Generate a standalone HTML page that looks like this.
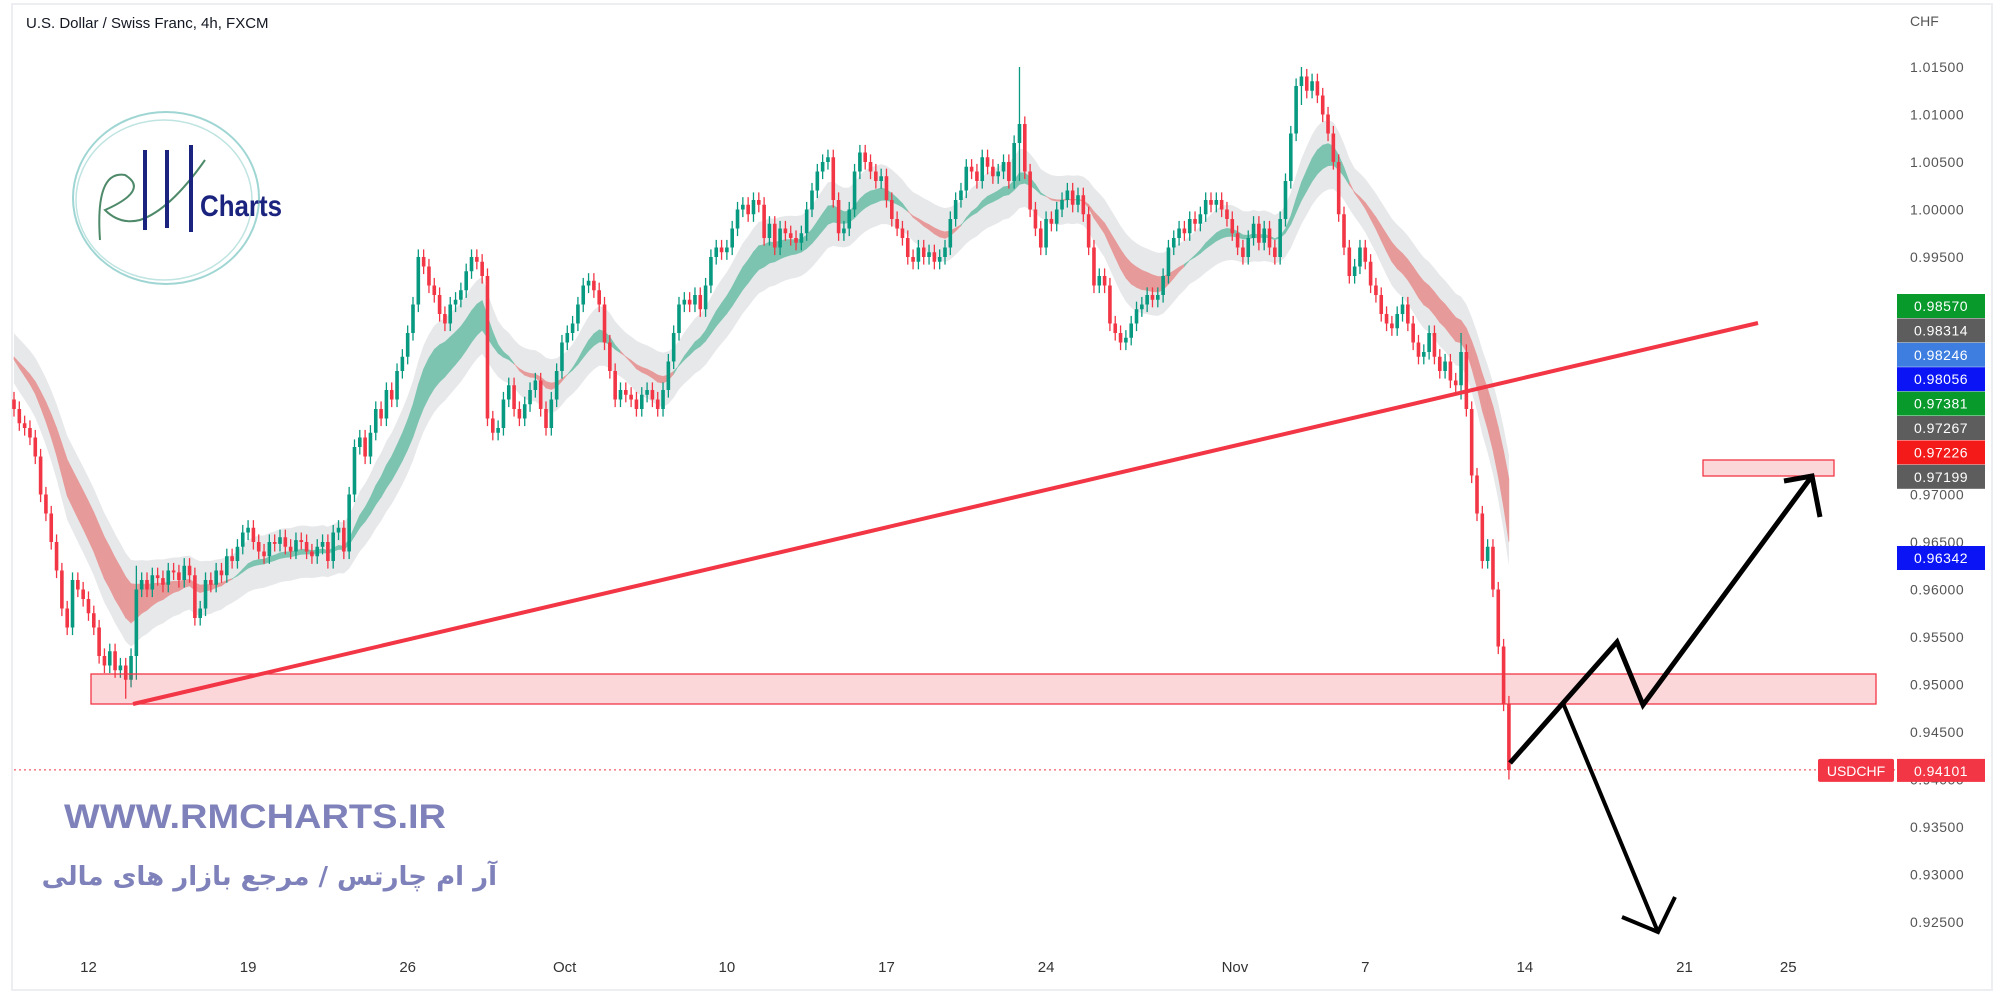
<!DOCTYPE html>
<html><head><meta charset="utf-8">
<style>
html,body{margin:0;padding:0;background:#fff;}
body{width:2000px;height:1000px;overflow:hidden;position:relative;font-family:"Liberation Sans",sans-serif;}
svg{position:absolute;left:0;top:0;}
#fa{position:absolute;left:20px;width:477px;top:858px;text-align:right;direction:rtl;font-size:26px;font-weight:bold;color:#7f82ba;font-family:"DejaVu Sans","Noto Sans CJK SC",sans-serif;white-space:nowrap;line-height:38px;}
</style></head>
<body>
<svg id="chart" width="2000" height="1000" viewBox="0 0 2000 1000">
  <rect x="12" y="4" width="1980" height="986" fill="#fff" stroke="#eceef2" stroke-width="2"/>
  <g id="bands"></g>
  <g id="candles"></g>
  <g id="axis"></g>
  <g id="xaxis"></g>
  <text x="26" y="28" font-size="15" fill="#131722">U.S. Dollar / Swiss Franc, 4h, FXCM</text>
  <text x="1910" y="26" font-size="14" fill="#555">CHF</text>
  <g>
    <ellipse cx="166" cy="198" rx="93" ry="86" fill="none" stroke="#9fd6d3" stroke-width="2"/>
    <ellipse cx="164" cy="200" rx="88" ry="80" fill="none" stroke="#bfe4e1" stroke-width="1.5"/>
    <path d="M100 240 Q95 170 125 175 Q150 190 105 210 Q120 225 140 220 Q170 210 205 160" fill="none" stroke="#4e8a6a" stroke-width="2"/>
    <line x1="145" y1="150" x2="145" y2="230" stroke="#1a237e" stroke-width="4"/>
    <line x1="167" y1="150" x2="167" y2="228" stroke="#1a237e" stroke-width="4"/>
    <line x1="191" y1="145" x2="191" y2="232" stroke="#1a237e" stroke-width="4"/>
    <text x="200" y="216" font-size="30" font-weight="bold" fill="#1a237e" textLength="82" lengthAdjust="spacingAndGlyphs">Charts</text>
  </g>
  <text x="64" y="828" font-size="34" font-weight="bold" fill="#7f82ba" textLength="382" lengthAdjust="spacingAndGlyphs">WWW.RMCHARTS.IR</text>
  <g id="drawings"></g>
</svg>
<div id="fa">آر ام چارتس / مرجع بازار های مالی</div>
<script>
const closes = [
0.9790,0.9775,0.9770,0.9760,0.9740,0.9700,0.9680,0.9650,0.9620,0.9580,
0.9560,0.9610,0.9600,0.9590,0.9575,0.9560,0.9530,0.9520,0.9535,0.9515,
0.9520,0.9505,0.9530,0.9600,
0.9610,0.9600,0.9615,0.9612,0.9605,0.9620,0.9618,0.9610,0.9625,0.9615,
0.9570,0.9580,0.9610,0.9605,0.9620,0.9615,0.9635,0.9630,0.9645,0.9660,
0.9665,0.9650,0.9640,0.9635,0.9650,0.9648,0.9655,0.9645,0.9640,0.9652,
0.9650,0.9640,0.9635,0.9645,0.9650,0.9630,0.9660,0.9665,0.9640,
0.9700,0.9750,0.9760,0.9740,0.9765,0.9790,0.9780,0.9810,0.9800,0.9830,0.9845,0.9870,0.9900,
0.9950,0.9940,0.9920,0.9910,0.9890,0.9880,0.9900,0.9905,0.9915,0.9935,0.9950,0.9945,0.9930,
0.9780,0.9765,0.9770,0.9800,0.9815,0.9790,0.9780,0.9795,0.9810,0.9820,0.9790,0.9770,0.9800,0.9830,
0.9860,0.9870,0.9880,0.9900,0.9920,0.9925,0.9915,0.9900,0.9860,0.9830,
0.9800,0.9810,0.9805,0.9800,0.9790,0.9805,0.9810,0.9800,0.9790,0.9810,0.9840,0.9870,
0.9900,0.9905,0.9900,0.9910,0.9895,0.9920,0.9950,0.9960,0.9955,0.9960,0.9980,1.0000,
1.0005,0.9995,1.0010,1.0005,0.9970,0.9985,0.9960,0.9980,0.9975,0.9970,0.9965,0.9975,1.0000,1.0020,1.0040,1.0050,
1.0055,1.0010,0.9975,0.9980,1.0000,1.0040,1.0060,1.0050,1.0040,1.0030,1.0035,1.0010,0.9990,
0.9980,0.9970,0.9950,0.9945,0.9960,0.9950,0.9955,0.9945,0.9950,0.9960,0.9990,1.0010,
1.0020,1.0045,1.0040,1.0030,1.0055,1.0045,1.0035,1.0040,1.0050,1.0030,1.0070,1.0090,
1.0040,1.0000,0.9980,0.9960,0.9990,0.9985,1.0000,1.0010,1.0020,1.0005,1.0015,0.9995,
0.9960,0.9920,0.9930,0.9920,0.9880,0.9870,0.9860,0.9865,0.9880,0.9895,0.9900,0.9910,
0.9905,0.9910,0.9930,0.9960,0.9970,0.9980,0.9975,0.9990,0.9985,0.9995,1.0010,1.0005,
1.0010,1.0000,0.9990,0.9975,0.9960,0.9950,0.9970,0.9985,0.9965,0.9980,0.9960,0.9950,
0.9990,1.0030,1.0080,1.0130,1.0140,1.0125,1.0135,1.0120,1.0100,1.0080,1.0050,0.9995,
0.9960,0.9930,0.9940,0.9960,0.9945,0.9920,0.9910,0.9890,0.9880,0.9875,0.9890,0.9900,
0.9880,0.9860,0.9845,0.9850,0.9870,0.9845,0.9830,0.9840,0.9820,0.9815,
0.9850,0.9790,0.9720,0.9680,0.9630,0.9645,0.9600,0.9540,0.9480,0.9410
];
const firstOpen = 0.9800;
const wick = 0.0008;
const spikeIdx = [21, 23, 189, 242, 272, 281];
const spikeHigh = [0.9525, 0.9625, 1.0150, 1.0150, 0.9870, 0.9430];
const spikeLow  = [0.9485, 0.9505, 1.0030, 1.0110, 0.9800, 0.9400];
const priceTicks = [1.015,1.010,1.005,1.000,0.995,0.990,0.985,0.980,0.975,0.970,0.965,0.960,0.955,0.950,0.945,0.940,0.935,0.930,0.925];
const dateLabels = ["12","19","26","Oct","10","17","24","Nov","7","14","21","25"];
const dateIdx = [14,44,74,103.5,134,164,194,229.5,254,284,314,333.5];
const badgeValues = ["0.98570","0.98314","0.98246","0.98056","0.97381","0.97267","0.97226","0.97199"];
const badgeColors = ["#089a2b","#5d5d5d","#3d7ee0","#0a14f5","#089a2b","#5d5d5d","#f41a1a","#5d5d5d"];
const lastPrice = 0.94101;

const NS = "http://www.w3.org/2000/svg";
function yOf(p){ return 67 + (1.015 - p) * 9500; }
function xOf(i){ return 14 + i * 5.32; }
function mk(tag, attrs, parent){ const e=document.createElementNS(NS,tag); for(const k in attrs) e.setAttribute(k,attrs[k]); parent.appendChild(e); return e; }

function ema(arr,n){ const k=2/(n+1); const out=[]; let v=arr[0]; arr.forEach(a=>{v=a*k+v*(1-k); out.push(v);}); return out; }
const seeded = [0.9850,0.9850,0.9850,0.9850].concat(closes);
const e1 = ema(seeded,14).slice(4), e2 = ema(seeded,22).slice(4);
const bands = document.getElementById('bands');
let up=[],dn=[];
for(let i=0;i<closes.length;i++){ const hi=Math.max(e1[i],e2[i])+0.0025, lo=Math.min(e1[i],e2[i])-0.0025; up.push(xOf(i)+','+yOf(hi)); dn.unshift(xOf(i)+','+yOf(lo)); }
const env = mk('polygon',{points:up.concat(dn).join(' '),fill:'#e3e4e6',opacity:'0.85'},bands);


for(let i=1;i<closes.length;i++){
  const col = e1[i]>=e2[i] ? '#7cc4b0' : '#e79a9a';
  const pts=[xOf(i-1)+','+yOf(e1[i-1]),xOf(i)+','+yOf(e1[i]),xOf(i)+','+yOf(e2[i]),xOf(i-1)+','+yOf(e2[i-1])].join(' ');
  const seg = mk('polygon',{points:pts,fill:col,stroke:col,'stroke-width':'0.6'},bands);
  
  
}

const cg = document.getElementById('candles');
for(let i=0;i<closes.length;i++){
  const o = i===0?firstOpen:closes[i-1], c=closes[i];
  let h=Math.max(o,c)+wick, l=Math.min(o,c)-wick;
  const s=spikeIdx.indexOf(i); if(s>=0){h=Math.max(h,spikeHigh[s]); l=Math.min(l,spikeLow[s]);}
  const col = c>=o ? '#089981' : '#f23645';
  const x=xOf(i);
  const g = mk('g',{},cg);
  
  
  mk('line',{x1:x,x2:x,y1:yOf(h),y2:yOf(l),stroke:col,'stroke-width':'1.3'},g);
  const top=yOf(Math.max(o,c)), bh=Math.max(1.5,yOf(Math.min(o,c))-top);
  mk('rect',{x:x-1.8,y:top,width:3.6,height:bh,fill:col},g);
}

const ax = document.getElementById('axis');
priceTicks.forEach(p=>{
  const t=mk('text',{x:1910,y:yOf(p)+5,'font-size':'14',fill:'#555','letter-spacing':'0.5'},ax);
  t.textContent=p.toFixed(5);
  
  
});
badgeValues.forEach((v,i)=>{
  const cy=306+i*24.4;
  const r=mk('rect',{x:1897,y:cy-12,width:88,height:24,fill:badgeColors[i]},ax);
  
  
  const t=mk('text',{x:1941,y:cy+5,'font-size':'14',fill:'#fff','text-anchor':'middle','letter-spacing':'0.5'},ax);
  t.textContent=v;
  
  
});
{
  const r=mk('rect',{x:1897,y:546,width:88,height:24,fill:'#0a14f5'},ax);
  
  
  const t=mk('text',{x:1941,y:563,'font-size':'14',fill:'#fff','text-anchor':'middle','letter-spacing':'0.5'},ax);
  t.textContent='0.96342';
  
  
}
const ly=yOf(lastPrice);
const dl=mk('line',{x1:14,x2:1895,y1:ly,y2:ly,stroke:'#f23645','stroke-width':'1','stroke-dasharray':'2 3'},ax);


const sb=mk('rect',{x:1818,y:ly-11,width:76,height:23,fill:'#f23645',rx:2},ax);


const st=mk('text',{x:1856,y:ly+6,'font-size':'14',fill:'#fff','text-anchor':'middle'},ax);
st.textContent='USDCHF';


const pb=mk('rect',{x:1897,y:ly-11,width:88,height:23,fill:'#f23645'},ax);


const pt=mk('text',{x:1941,y:ly+6,'font-size':'14',fill:'#fff','text-anchor':'middle','letter-spacing':'0.5'},ax);
pt.textContent=lastPrice.toFixed(5);



const xa=document.getElementById('xaxis');
dateLabels.forEach((d,i)=>{
  const t=mk('text',{x:xOf(dateIdx[i]),y:972,'font-size':'15',fill:'#333','text-anchor':'middle'},xa);
  t.textContent=d;
  
  
});

const dr=document.getElementById('drawings');
const zone=mk('rect',{x:91,y:674,width:1785,height:30,fill:'#f23645','fill-opacity':'0.2',stroke:'#f23645','stroke-width':'1.3'},dr);


const tz=mk('rect',{x:1703,y:460,width:131,height:16,fill:'#f23645','fill-opacity':'0.2',stroke:'#f23645','stroke-width':'1.3'},dr);


const tl=mk('line',{x1:133,y1:704,x2:1758,y2:323,stroke:'#f23645','stroke-width':'4'},dr);


const a1=mk('polyline',{points:'1510,763 1617,642 1643,705 1812,476',fill:'none',stroke:'#000','stroke-width':'5','stroke-linejoin':'miter'},dr);


const h1=mk('polyline',{points:'1784,481 1812,476 1820,517',fill:'none',stroke:'#000','stroke-width':'5'},dr);


const a2=mk('line',{x1:1563,y1:703,x2:1658,y2:932,stroke:'#000','stroke-width':'4'},dr);


const h2=mk('polyline',{points:'1622,917 1658,932 1675,897',fill:'none',stroke:'#000','stroke-width':'4'},dr);


</script>
</body></html>
